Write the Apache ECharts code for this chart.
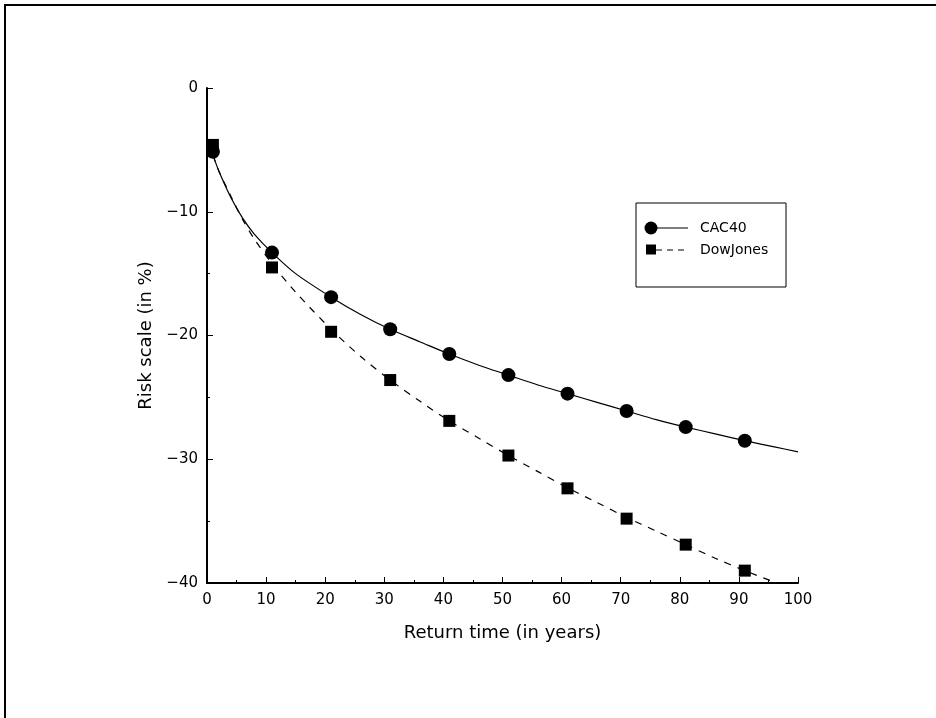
<!DOCTYPE html>
<html>
<head>
<meta charset="utf-8">
<script src="https://cdn.jsdelivr.net/npm/echarts@6/dist/echarts.min.js"></script>
<style>
html,body{margin:0;padding:0;background:#fff;}
#c{width:936px;height:718px;}
</style>
</head>
<body>
<div id="c"></div>
<script>
// Observed points
var cacX = [1, 11, 21, 31, 41, 51, 61, 71, 81, 91];
var cacY = [-5.15, -13.3, -16.9, -19.5, -21.5, -23.2, -24.7, -26.1, -27.4, -28.5];
var dowX = [1, 11, 21, 31, 41, 51, 61, 71, 81, 91];
var dowY = [-4.6, -14.5, -19.7, -23.6, -26.9, -29.7, -32.35, -34.8, -36.9, -39.0];
// Fitted curves
var cacFitX = [1, 2, 4, 6, 8, 11, 15, 21, 26, 31, 36, 41, 46, 51, 56, 61, 66, 71, 76, 81, 86, 91, 96, 100];
var cacFitY = [-5.4, -6.7, -8.8, -10.5, -11.8, -13.3, -15.0, -16.9, -18.3, -19.5, -20.5, -21.5, -22.4, -23.2, -24.0, -24.7, -25.4, -26.1, -26.8, -27.4, -27.95, -28.5, -29.0, -29.4];
var dowFitX = [1, 2, 4, 6, 8, 11, 15, 21, 26, 31, 36, 41, 46, 51, 56, 61, 66, 71, 76, 81, 86, 91, 96.4];
var dowFitY = [-5.4, -6.7, -8.7, -10.6, -12.2, -14.2, -16.5, -19.5, -21.7, -23.6, -25.3, -26.9, -28.3, -29.7, -31.0, -32.3, -33.5, -34.7, -35.8, -36.9, -38.0, -39.0, -40.0];
var seriesNames = ['CAC40', 'DowJones'];
var xTitle = 'Return time (in years)';
var yTitle = 'Risk scale (in %)';

function pairs(xs, ys) { return xs.map(function (x, i) { return [x, ys[i]]; }); }
var FONT = 'DejaVu Sans';
var chart = echarts.init(document.getElementById('c'));
var fmt = function (v) { return String(v).replace('-', '\u2212'); };

chart.setOption({
  backgroundColor: '#fff',
  animation: false,
  grid: { left: 207, top: 88, right: 138, bottom: 135, containLabel: false },
  xAxis: {
    type: 'value', min: 0, max: 100, interval: 10,
    name: xTitle, nameLocation: 'middle', nameGap: 41,
    nameTextStyle: { fontFamily: FONT, fontSize: 18, color: '#000' },
    axisLine: { show: true, onZero: false, lineStyle: { color: '#000', width: 2 } },
    axisTick: { show: true, inside: true, length: 6, lineStyle: { color: '#000', width: 1 } },
    minorTick: { show: true, splitNumber: 2, length: 3, lineStyle: { color: '#000', width: 1 } },
    axisLabel: { fontFamily: FONT, fontSize: 15, color: '#000', margin: 10, formatter: fmt },
    splitLine: { show: false }
  },
  yAxis: {
    type: 'value', min: -40, max: 0, interval: 10,
    name: yTitle, nameLocation: 'middle', nameGap: 50, nameRotate: 90,
    nameTextStyle: { fontFamily: FONT, fontSize: 18, color: '#000' },
    axisLine: { show: true, onZero: false, lineStyle: { color: '#000', width: 2 } },
    axisTick: { show: true, inside: true, length: 6, lineStyle: { color: '#000', width: 1 } },
    minorTick: { show: true, splitNumber: 2, length: 3, lineStyle: { color: '#000', width: 1 } },
    axisLabel: { fontFamily: FONT, fontSize: 15, color: '#000', margin: 9, formatter: fmt },
    splitLine: { show: false }
  },
  series: [
    { name: seriesNames[0] + ' fit', type: 'line', data: pairs(cacFitX, cacFitY), smooth: 0.3, showSymbol: false, symbol: 'none',
      lineStyle: { color: '#000', width: 1.2, type: 'solid' }, clip: true, z: 2 },
    { name: seriesNames[1] + ' fit', type: 'line', data: pairs(dowFitX, dowFitY), smooth: 0.3, showSymbol: false, symbol: 'none',
      lineStyle: { color: '#000', width: 1.2, type: [7, 7] }, clip: true, z: 2 },
    { name: seriesNames[0], type: 'scatter', data: pairs(cacX, cacY), symbol: 'circle', symbolSize: 14,
      itemStyle: { color: '#000', opacity: 1 }, z: 3 },
    { name: seriesNames[1], type: 'scatter', data: pairs(dowX, dowY), symbol: 'rect', symbolSize: 12,
      itemStyle: { color: '#000', opacity: 1 }, z: 3 }
  ],
  graphic: [
    { type: 'rect', shape: { x: 5, y: 5, width: 2000, height: 2000 }, style: { fill: 'none', stroke: '#000', lineWidth: 2 }, silent: true },
    { type: 'rect', shape: { x: 636, y: 203, width: 150, height: 84 }, style: { fill: '#fff', stroke: '#000', lineWidth: 1 }, z: 10 },
    { type: 'circle', shape: { cx: 651, cy: 228, r: 6.5 }, style: { fill: '#000' }, z: 11 },
    { type: 'line', shape: { x1: 651, y1: 228, x2: 688, y2: 228 }, style: { stroke: '#000', lineWidth: 1.2 }, z: 11 },
    { type: 'text', x: 700, y: 228, style: { text: seriesNames[0], font: '14px "DejaVu Sans"', fill: '#000', verticalAlign: 'middle' }, z: 11 },
    { type: 'rect', shape: { x: 646, y: 244.5, width: 10, height: 10 }, style: { fill: '#000' }, z: 11 },
    { type: 'line', shape: { x1: 656, y1: 250, x2: 688, y2: 250 }, style: { stroke: '#000', lineWidth: 1.2, lineDash: [6, 5] }, z: 11 },
    { type: 'text', x: 700, y: 250, style: { text: seriesNames[1], font: '14px "DejaVu Sans"', fill: '#000', verticalAlign: 'middle' }, z: 11 }
  ]
});
</script>
</body>
</html>
